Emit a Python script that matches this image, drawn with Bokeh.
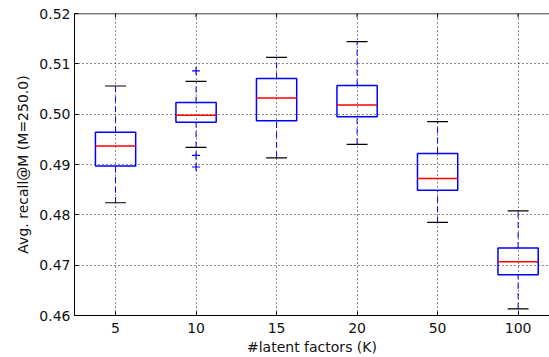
import math
from bokeh.plotting import figure
from bokeh.models import FixedTicker, Range1d, ColumnDataSource, Span
from bokeh.transform import dodge
from bokeh.embed import file_html
from bokeh.resources import INLINE

# ---- data ----
k_labels = ["5", "10", "15", "20", "50", "100"]
whisker_low = [0.4824, 0.4934, 0.4913, 0.4940, 0.4785, 0.4613]
q1 = [0.4897, 0.4984, 0.4987, 0.4995, 0.4849, 0.4681]
median = [0.4937, 0.4998, 0.5032, 0.5018, 0.4872, 0.4707]
q3 = [0.4964, 0.5023, 0.5071, 0.5057, 0.4922, 0.4734]
whisker_high = [0.5056, 0.5065, 0.5113, 0.5144, 0.4985, 0.4808]
flier_group = ["10", "10", "10"]
flier_values = [0.5086, 0.4918, 0.4895]
y_ticks = [0.46, 0.47, 0.48, 0.49, 0.50, 0.51, 0.52]

positions = list(range(1, len(k_labels) + 1))
src = ColumnDataSource(dict(pos=positions, lo=whisker_low, q1=q1, med=median,
                            q3=q3, hi=whisker_high))
fl_src = ColumnDataSource(dict(pos=[k_labels.index(g) + 1 for g in flier_group],
                               val=flier_values))
top_src = ColumnDataSource(dict(pos=positions, top=[y_ticks[-1]] * len(positions)))

FONT = "DejaVu Sans"

p = figure(width=549, height=357, output_backend="svg", toolbar_location=None,
           x_range=Range1d(0.49, 6.39), y_range=Range1d(y_ticks[0], y_ticks[-1]),
           min_border_left=74, min_border_right=0, min_border_top=13,
           min_border_bottom=42)
p.outline_line_color = None
p.background_fill_color = "white"
p.border_fill_color = "white"

# grid
p.xgrid.ticker = FixedTicker(ticks=positions)
p.ygrid.ticker = FixedTicker(ticks=y_ticks)
for g in (p.xgrid, p.ygrid):
    g.grid_line_color = "black"
    g.grid_line_dash = "1 3"
    g.grid_line_width = 1
    g.grid_line_alpha = 0.9

# axes
p.xaxis.ticker = FixedTicker(ticks=positions)
p.xaxis.major_label_overrides = {pos: lab for pos, lab in zip(positions, k_labels)}
p.yaxis.ticker = FixedTicker(ticks=y_ticks)
p.yaxis.major_label_overrides = {t: f"{t:.2f}" for t in y_ticks}
for ax in (p.xaxis, p.yaxis):
    ax.major_tick_in = 4
    ax.major_tick_out = 0
    ax.minor_tick_line_color = None
    ax.axis_line_color = "black"
    ax.major_tick_line_color = "black"
    ax.major_label_text_font = FONT
    ax.major_label_text_font_size = "14px"
    ax.major_label_text_color = "#111111"
    ax.axis_label_text_font = FONT
    ax.axis_label_text_font_size = "14px"
    ax.axis_label_text_font_style = "normal"
    ax.axis_label_text_color = "#111111"
p.xaxis.major_label_standoff = 7
p.xaxis.axis_label_standoff = 3
p.yaxis.major_label_standoff = 4
p.yaxis.axis_label_standoff = 5
p.xaxis.axis_label = "#latent factors (K)"
p.yaxis.axis_label = "Avg. recall@M (M=250.0)"

# top spine and inward top ticks
p.add_layout(Span(location=y_ticks[-1], dimension="width", line_color="black",
                  line_width=1.5))
p.scatter(x="pos", y="top", source=top_src, marker="dash", angle=math.pi / 2,
          size=8, line_color="black", line_width=1)

# whiskers (blue dashed)
p.segment(x0="pos", x1="pos", y0="q3", y1="hi", source=src,
          line_color="blue", line_dash="6 4", line_width=1)
p.segment(x0="pos", x1="pos", y0="lo", y1="q1", source=src,
          line_color="blue", line_dash="6 4", line_width=1)
# caps (black)
p.segment(x0=dodge("pos", -0.13), x1=dodge("pos", 0.13), y0="hi", y1="hi",
          source=src, line_color="black", line_width=1.2)
p.segment(x0=dodge("pos", -0.13), x1=dodge("pos", 0.13), y0="lo", y1="lo",
          source=src, line_color="black", line_width=1.2)
# boxes
p.vbar(x="pos", width=0.5, top="q3", bottom="q1", source=src,
       fill_color=None, line_color="blue", line_width=1.5)
# medians
p.segment(x0=dodge("pos", -0.25), x1=dodge("pos", 0.25), y0="med", y1="med",
          source=src, line_color="red", line_width=1.5)
# fliers
p.scatter(x="pos", y="val", source=fl_src, marker="cross", size=8,
          line_color="blue", line_width=1.2)

open("out.html", "w").write(file_html(p, INLINE))
